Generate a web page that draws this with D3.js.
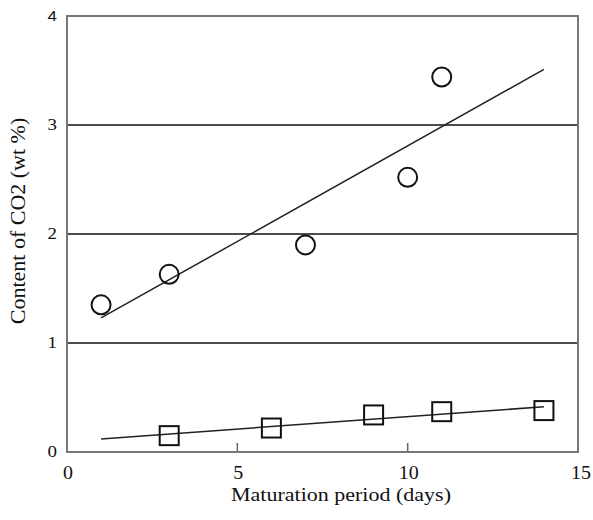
<!DOCTYPE html>
<html>
<head>
<meta charset="utf-8">
<script src="https://cdn.jsdelivr.net/npm/d3@7"></script>
<style>
  body { margin: 0; background: #fff; }
  text { font-family: "Liberation Serif", "Times New Roman", serif; fill: #111; }
</style>
</head>
<body>
<div id="chart"></div>
<script>
// data
const circleDays = [1, 3, 7, 10, 11];
const circleCO2 = [1.35, 1.63, 1.90, 2.52, 3.44];
const squareDays = [3, 6, 9, 11, 14];
const squareCO2 = [0.15, 0.22, 0.34, 0.37, 0.38];
const fitDays = [1, 14];
const circleFit = [1.23, 3.51];
const squareFit = [0.12, 0.415];
const xTicks = [0, 5, 10, 15];
const yTicks = [0, 1, 2, 3, 4];
const gridLevels = [1, 2, 3];

const width = 593, height = 520;
const margin = { top: 16, right: 15, bottom: 68, left: 67 };

const svg = d3.select("#chart")
    .append("svg")
    .attr("width", width)
    .attr("height", height);

const x = d3.scaleLinear().domain([0, 15]).range([margin.left, width - margin.right]);
const y = d3.scaleLinear().domain([0, 4]).range([height - margin.bottom, margin.top]);

// grid lines
svg.append("g")
    .selectAll("line")
    .data(gridLevels)
    .enter()
    .append("line")
    .attr("x1", x(0))
    .attr("x2", x(15))
    .attr("y1", (d) => y(d))
    .attr("y2", (d) => y(d))
    .attr("stroke", "#111")
    .attr("stroke-width", 1.5);

// inward ticks on the bottom
svg.append("g")
    .selectAll("line")
    .data(xTicks.slice(1, -1))
    .enter()
    .append("line")
    .attr("x1", (d) => x(d))
    .attr("x2", (d) => x(d))
    .attr("y1", y(0))
    .attr("y2", y(0) - 9)
    .attr("stroke", "#666")
    .attr("stroke-width", 1.5);

// frame
svg.append("rect")
    .attr("x", x(0))
    .attr("y", y(4))
    .attr("width", x(15) - x(0))
    .attr("height", y(0) - y(4))
    .attr("fill", "none")
    .attr("stroke", "#777")
    .attr("stroke-width", 2);

// tick labels (the source text is squat, hence the vertical scale)
svg.append("g")
    .selectAll("text")
    .data(xTicks)
    .enter()
    .append("text")
    .attr("transform", (d) => `translate(${x(d) + (d === 15 ? 3 : 1)}, ${y(0) + 27}) scale(1, 0.9)`)
    .attr("text-anchor", "middle")
    .style("font-size", "20px")
    .text((d) => d);

svg.append("g")
    .selectAll("text")
    .data(yTicks)
    .enter()
    .append("text")
    .attr("transform", (d) => `translate(${x(0) - 10}, ${y(d) + 5}) scale(1, 0.85)`)
    .attr("text-anchor", "end")
    .style("font-size", (d) => d === 4 ? "17px" : "19px")
    .style("font-family", (d) => d === 4 ? "'Liberation Sans', Arial, sans-serif" : null)
    .text((d) => d);

// axis titles
svg.append("text")
    .attr("transform", "translate(341, 501) scale(1, 0.88)")
    .attr("text-anchor", "middle")
    .style("font-size", "22px")
    .text("Maturation period (days)");

svg.append("text")
    .attr("transform", "translate(25, 221) rotate(-90)")
    .attr("text-anchor", "middle")
    .style("font-size", "22px")
    .text("Content of CO2 (wt %)");

// fitted lines
const line = d3.line().x((d) => x(d[0])).y((d) => y(d[1]));

[circleFit, squareFit].forEach((fit) => {
    svg.append("path")
        .attr("d", line(d3.zip(fitDays, fit)))
        .attr("fill", "none")
        .attr("stroke", "#222")
        .attr("stroke-width", 1.5);
});

// markers
svg.append("g")
    .selectAll("circle")
    .data(d3.zip(circleDays, circleCO2))
    .enter()
    .append("circle")
    .attr("cx", (d) => x(d[0]))
    .attr("cy", (d) => y(d[1]))
    .attr("r", 9.5)
    .attr("fill", "none")
    .attr("stroke", "#111")
    .attr("stroke-width", 2);

const side = 19;
svg.append("g")
    .selectAll("rect")
    .data(d3.zip(squareDays, squareCO2))
    .enter()
    .append("rect")
    .attr("x", (d) => x(d[0]) - side / 2)
    .attr("y", (d) => y(d[1]) - side / 2)
    .attr("width", side)
    .attr("height", side)
    .attr("fill", "none")
    .attr("stroke", "#111")
    .attr("stroke-width", 2);
</script>
</body>
</html>
